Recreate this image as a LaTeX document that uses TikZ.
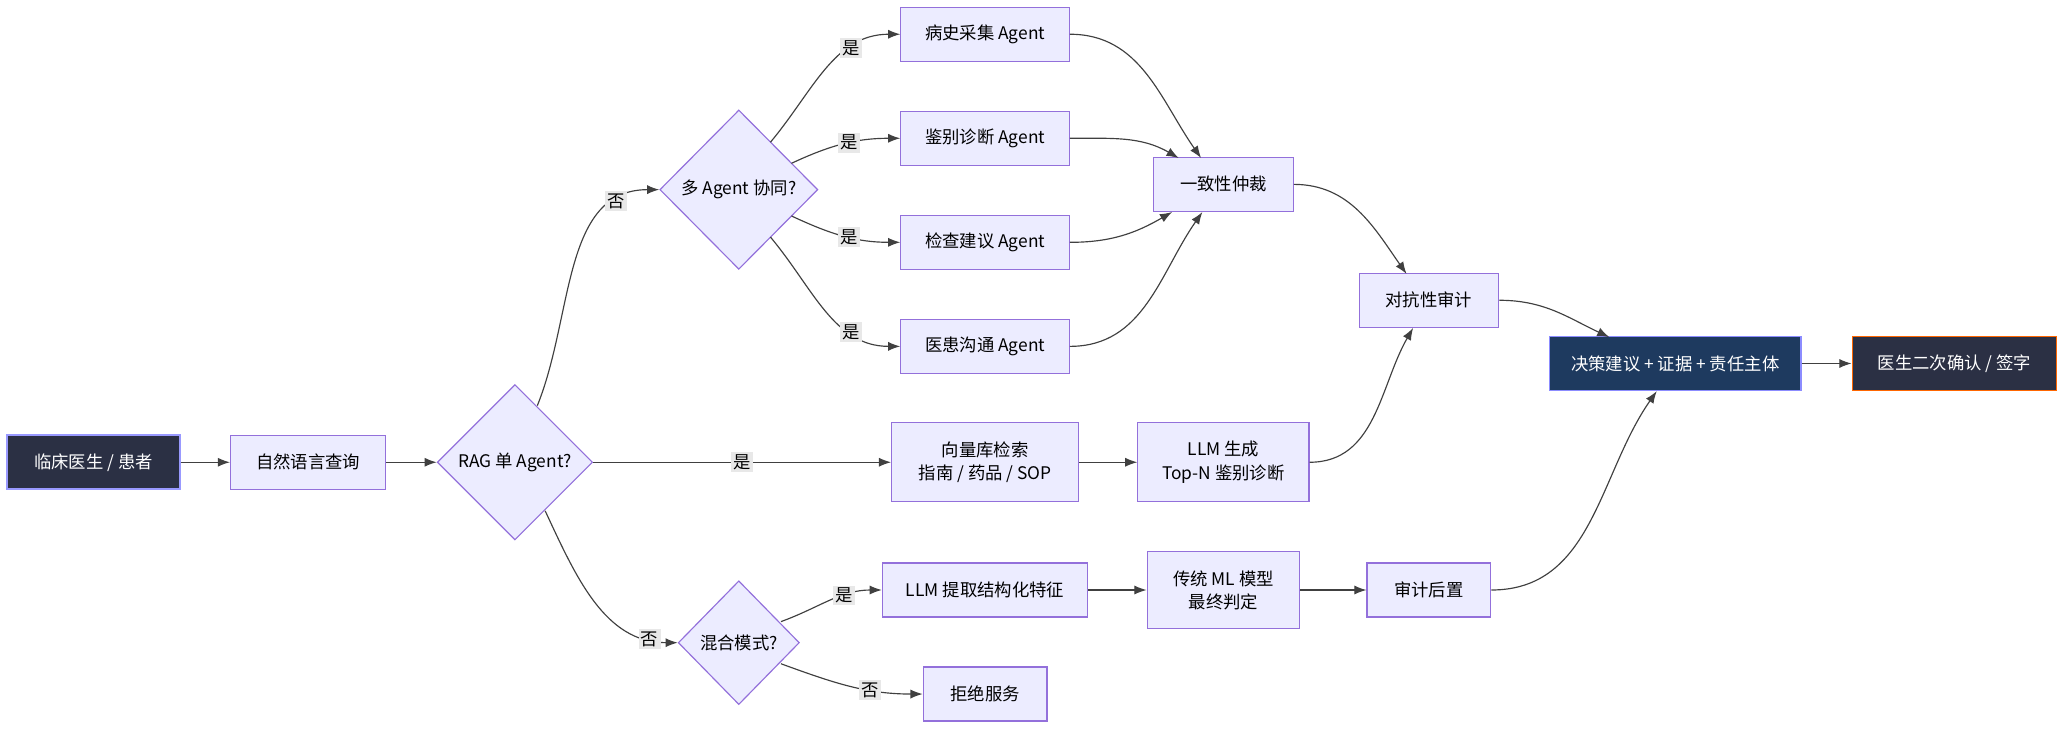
\documentclass[tikz,border=0pt]{standalone}
\usepackage{fontspec}
\setmainfont{Noto Sans CJK SC}
\usetikzlibrary{arrows.meta}
\usetikzlibrary{shapes.geometric}
\definecolor{boxfill}{HTML}{ECECFF}
\definecolor{boxline}{HTML}{9370DB}
\definecolor{darkfill}{HTML}{2B3044}
\definecolor{navyfill}{HTML}{1E3A5F}
\definecolor{lblfill}{HTML}{E8E8E8}

\begin{document}
\begin{tikzpicture}[
        x=0.02cm, y=-0.02cm,
        font=\fontsize{7.5}{10}\selectfont,
        block/.style={rectangle, draw=boxline, fill=boxfill, line width=0.5pt, minimum height=0.82cm, align=center},
        decide/.style={diamond, draw=boxline, fill=boxfill, line width=0.5pt, inner sep=0pt, align=center},
        dark/.style={rectangle, draw=#1, fill=darkfill, text=white, line width=0.7pt, minimum height=0.82cm, align=center},
        lbl/.style={fill=lblfill, inner sep=1pt},
        arrow/.style={-Latex, draw=black!75, line width=0.5pt}
        ]
        \useasboundingbox (0,0) rectangle (1568,554);

        % Nodes at coordinates
        \node (clin)   [dark=blue!40, minimum width=2.62cm] at (71,351) {临床医生 / 患者};
        \node (query)  [block, minimum width=2.36cm] at (234,351) {自然语言查询};
        \node (rag)    [decide, minimum width=2.36cm, minimum height=2.36cm] at (391,351) {RAG 单 Agent?};
        \node (multi)  [decide, minimum width=2.4cm, minimum height=2.42cm] at (561,144) {多 Agent 协同?};
        \node (mix)    [decide, minimum width=1.84cm, minimum height=1.88cm] at (561,488) {混合模式?};
        \node (hist)   [block, minimum width=2.56cm] at (748,26)  {病史采集 Agent};
        \node (diff)   [block, minimum width=2.56cm] at (748,105) {鉴别诊断 Agent};
        \node (exam)   [block, minimum width=2.56cm] at (748,184) {检查建议 Agent};
        \node (comm)   [block, minimum width=2.56cm] at (748,263) {医患沟通 Agent};
        \node (cons)   [block, minimum width=2.12cm] at (929,140) {一致性仲裁};
        \node (adv)    [block, minimum width=2.12cm] at (1085,228) {对抗性审计};
        \node (vec)    [block, minimum width=2.84cm, minimum height=1.2cm] at (748,351) {向量库检索\\指南 / 药品 / SOP};
        \node (llmgen) [block, minimum width=2.6cm, minimum height=1.2cm] at (929,351) {LLM 生成\\Top-N 鉴别诊断};
        \node (llmext) [block, minimum width=3.12cm] at (748,448) {LLM 提取结构化特征};
        \node (ml)     [block, minimum width=2.32cm, minimum height=1.18cm] at (929,448) {传统 ML 模型\\最终判定};
        \node (audit)  [block, minimum width=1.88cm] at (1085,448) {审计后置};
        \node (reject) [block, minimum width=1.88cm] at (748,527) {拒绝服务};
        \node (dec)    [rectangle, draw=blue!45, fill=navyfill, text=white, line width=0.7pt, minimum height=0.82cm, minimum width=3.82cm] at (1272,276) {决策建议 + 证据 + 责任主体};
        \node (conf)   [dark=orange!80!red, minimum width=3.1cm] at (1484,276) {医生二次确认 / 签字};

        % Connectors
        \draw[arrow] (clin) -- (query);
        \draw[arrow] (query) -- (rag);
        \draw[arrow] (rag) -- node[lbl] {是} (vec);
        \draw[arrow] (408,308) to[out=68, in=180] node[lbl, pos=0.82] {否} (multi.west);
        \draw[arrow] (414,388) to[out=-65, in=180] node[lbl, pos=0.86] {否} (mix.west);
        \draw[arrow] (585,108) to[out=50, in=180] node[lbl, pos=0.7] {是} (hist.west);
        \draw[arrow] (601,124) to[out=25, in=180] node[lbl, pos=0.55] {是} (diff.west);
        \draw[arrow] (601,164) to[out=-25, in=180] node[lbl, pos=0.55] {是} (exam.west);
        \draw[arrow] (585,180) to[out=-50, in=180] node[lbl, pos=0.7] {是} (comm.west);
        \draw[arrow] (593,472) to[out=20, in=180] node[lbl, pos=0.65] {是} (llmext.west);
        \draw[arrow] (593,504) to[out=-20, in=180] node[lbl, pos=0.65] {否} (reject.west);
        \draw[arrow] (hist.east) to[out=0, in=125] (912,120);
        \draw[arrow] (diff.east) to[out=0, in=150] (895,120);
        \draw[arrow] (exam.east) to[out=0, in=-150] (890,161);
        \draw[arrow] (comm.east) to[out=0, in=-125] (913,161);
        \draw[arrow] (cons.east) to[out=0, in=125] (1068,208);
        \draw[arrow] (vec) -- (llmgen);
        \draw[arrow] (llmgen.east) to[out=0, in=-120] (1073,249);
        \draw[arrow] (llmext) -- (ml);
        \draw[arrow] (ml) -- (audit);
        \draw[arrow] (adv.east) to[out=0, in=155] (1222,256);
        \draw[arrow] (audit.east) to[out=0, in=-125] (1258,297);
        \draw[arrow] (dec) -- (conf);
\end{tikzpicture}
\end{document}
